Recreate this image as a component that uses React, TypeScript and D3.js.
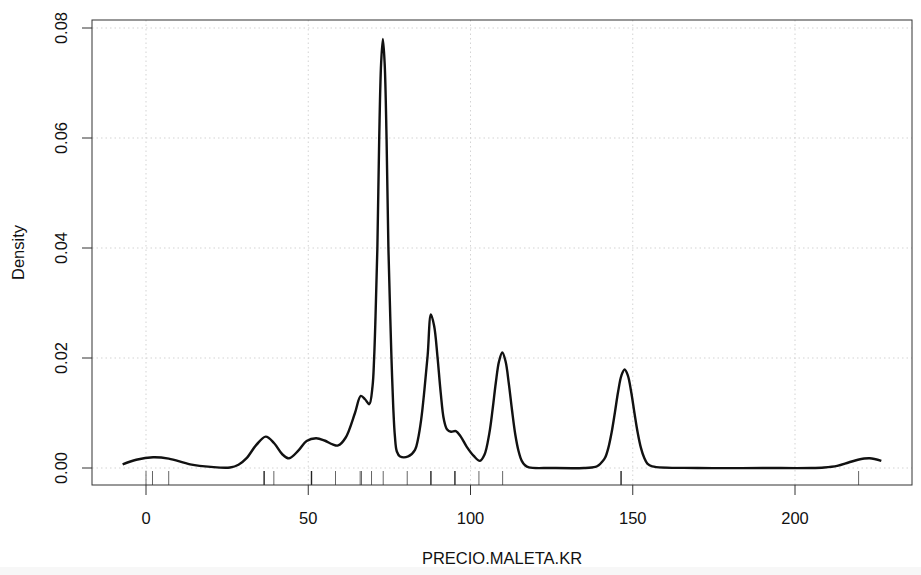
import React from "react";
import * as d3 from "d3";

// Density curve: [value, density]
const densityX = [
  -7.2, -3, 2.2, 7, 13.6, 20, 25.9, 28.5, 31, 34, 36.9, 39.5, 42, 44.1, 47, 49.5, 52.4, 55, 57.5, 59.2,
  61.5, 64.4, 66.2, 67.5, 68.8, 69.8, 70.3, 70.73, 71.3, 71.87, 72.45, 73.0, 73.55, 74.13, 74.7, 75.27,
  75.7, 76.2, 76.7, 77.3, 78.3, 80.8, 82.9, 83.8, 84.8, 85.8, 86.8, 87.8, 88.8, 89.8, 90.8, 91.8, 92.8,
  94, 95.5, 97, 98.8, 101, 102.9, 104.3, 105.8, 106.8, 107.8, 108.8, 109.8, 110.8, 111.8, 112.8, 113.8,
  114.8, 115.8, 116.8, 118, 125, 135, 138.5, 139.5, 140.5, 141.5, 142.5, 143.5, 144.5, 145.5, 146.5,
  147.5, 148.5, 149.5, 150.5, 151.5, 152.5, 153.5, 154.5, 156, 170, 190, 205, 209, 213, 216.5, 219.4,
  223, 226.6,
];
const densityY = [
  0.00067, 0.0015, 0.00195, 0.0017, 0.00067, 0.0002, 0.0001, 0.0006, 0.0018, 0.0042, 0.0057, 0.0045,
  0.0025, 0.00176, 0.0032, 0.0049, 0.0054, 0.005, 0.0043, 0.0041, 0.0055, 0.01, 0.0131, 0.0125, 0.0116,
  0.0148, 0.02, 0.0275, 0.04, 0.06, 0.0735, 0.078, 0.0735, 0.06, 0.04, 0.0275, 0.019, 0.011, 0.0058,
  0.003, 0.0021, 0.0021, 0.0033, 0.0052, 0.0088, 0.0142, 0.0205, 0.0279, 0.0258, 0.0204, 0.0138, 0.0088,
  0.0070, 0.0066, 0.0067, 0.0057, 0.0039, 0.0022, 0.0013, 0.0024, 0.0063, 0.0106, 0.0155, 0.0194, 0.021,
  0.0194, 0.0154, 0.0105, 0.0061, 0.0031, 0.0013, 0.0005, 0.0001, 0, 0, 0.0002, 0.0005, 0.0011, 0.0019,
  0.0037, 0.0065, 0.0101, 0.0139, 0.0168, 0.0179, 0.0168, 0.0139, 0.0101, 0.0065, 0.0037, 0.0019,
  0.0008, 0.0003, 0, 0, 0, 0.0001, 0.0004, 0.001, 0.0015, 0.00176, 0.0013, 0.00067,
];

// Rug observations and how many overlap
const rugValues = [0, 2, 7, 36.4, 39.4, 51, 58.4, 66, 66.4, 69.5, 73.1, 80.5, 87.8, 95.2, 102.6, 109.9, 146.4, 219.6];
const rugCounts = [1, 1, 1, 2, 1, 2, 1, 1, 1, 1, 1, 1, 2, 2, 1, 1, 2, 1];

const xTicks = [0, 50, 100, 150, 200];
const yTicks = [0, 0.02, 0.04, 0.06, 0.08];
const yTickLabels = ["0.00", "0.02", "0.04", "0.06", "0.08"];

const W = 921;
const H = 575;
const left = 92, right = 912, top = 20, bottom = 485;

export default function App() {
  const x = d3.scaleLinear().domain([0, 200]).range([146, 795]);
  const y = d3.scaleLinear().domain([0, 0.08]).range([468, 28]);
  const pts: [number, number][] = densityX.map((v, i) => [v, densityY[i]]);
  const line = d3
    .line<[number, number]>()
    .x((d) => x(d[0]))
    .y((d) => y(d[1]))
    .curve(d3.curveCatmullRom.alpha(0.5));
  const font = "'Liberation Sans', Arial, Helvetica, sans-serif";
  const fs = 16.5;
  return (
    <svg
      width={W}
      height={H}
      style={{ position: "absolute", left: 0, top: 0, background: "#fff" }}
      fontFamily={font}
    >
      <rect x={0} y={0} width={W} height={H} fill="#fff" />
      <rect x={0} y={567} width={W} height={8} fill="#f7f7f7" />
      {/* grid */}
      {xTicks.map((t) => (
        <line key={"gx" + t} x1={x(t)} x2={x(t)} y1={top} y2={bottom} stroke="#d3d3d3" strokeDasharray="1.5 3" strokeWidth={1} />
      ))}
      {yTicks.map((t) => (
        <line key={"gy" + t} x1={left} x2={right} y1={y(t)} y2={y(t)} stroke="#d3d3d3" strokeDasharray="1.5 3" strokeWidth={1} />
      ))}
      {/* rug */}
      {rugValues.map((v, i) => (
        <line
          key={"r" + i}
          x1={x(v)}
          x2={x(v)}
          y1={bottom}
          y2={bottom - 14}
          stroke={rugCounts[i] > 1 ? "#222" : "#666"}
          strokeWidth={rugCounts[i] > 1 ? 1.4 : 1}
        />
      ))}
      {/* density */}
      <path d={line(pts) || ""} fill="none" stroke="#111" strokeWidth={2.4} strokeLinejoin="round" />
      {/* frame */}
      <rect x={left} y={top} width={right - left} height={bottom - top} fill="none" stroke="#333" strokeWidth={1} />
      {/* x axis */}
      {xTicks.map((t) => (
        <g key={"xt" + t}>
          <line x1={x(t)} x2={x(t)} y1={bottom} y2={bottom + 10} stroke="#333" />
          <text x={x(t)} y={518} textAnchor="middle" dominantBaseline="central" fontSize={fs} fill="#111">
            {t}
          </text>
        </g>
      ))}
      {/* y axis */}
      {yTicks.map((t, i) => (
        <g key={"yt" + t}>
          <line x1={left} x2={left - 10} y1={y(t)} y2={y(t)} stroke="#333" />
          <text
            transform={`translate(61,${y(t)}) rotate(-90)`}
            textAnchor="middle"
            dominantBaseline="central"
            fontSize={fs}
            fill="#111"
          >
            {yTickLabels[i]}
          </text>
        </g>
      ))}
      <text x={(left + right) / 2} y={558} textAnchor="middle" dominantBaseline="central" fontSize={fs} fill="#111">
        PRECIO.MALETA.KR
      </text>
      <text
        transform={`translate(18,${(top + bottom) / 2}) rotate(-90)`}
        textAnchor="middle"
        dominantBaseline="central"
        fontSize={fs}
        fill="#111"
      >
        Density
      </text>
    </svg>
  );
}
